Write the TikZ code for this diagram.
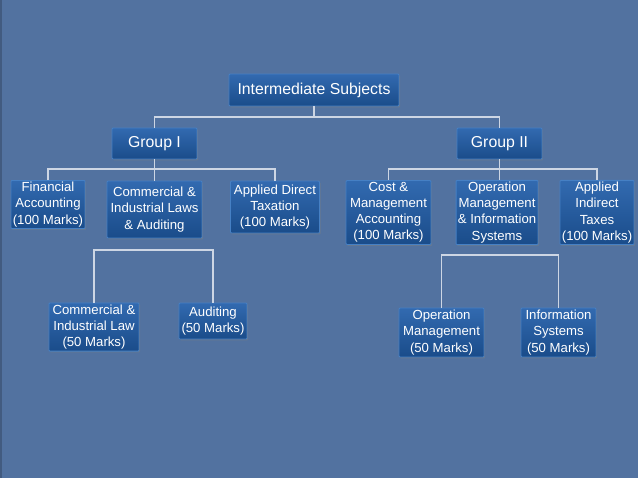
\documentclass[tikz,border=0pt]{standalone}
\usepackage{fontspec}
\setmainfont{Liberation Sans}
\usetikzlibrary{shadows}

\definecolor{bgblue}{RGB}{82,114,160}
\definecolor{boxtop}{RGB}{50,106,176}
\definecolor{boxbot}{RGB}{26,76,138}
\definecolor{boxedge}{RGB}{70,128,196}
\definecolor{linegray}{RGB}{205,214,228}

\tikzset{
  subj/.style={draw=boxedge, line width=0.5pt, top color=boxtop, bottom color=boxbot,
    text=white, align=center, inner sep=1pt, rounded corners=0.5pt,
    font=\fontsize{7.5}{9.2}\selectfont,
    drop shadow={shadow xshift=0.6pt, shadow yshift=-0.8pt, opacity=0.45}},
  head/.style={subj, font=\fontsize{9}{11}\selectfont},
  conn/.style={draw=linegray, line width=0.6pt}
}

\begin{document}
\begin{tikzpicture}[x=0.02cm, y=-0.02cm]
  % background
  \fill[bgblue] (0,0) rectangle (638,478);
  \fill[bgblue!80!black] (0,0) rectangle (2,478);

  % top level
  \node[head, minimum width=3.4cm, minimum height=0.64cm] (top) at (314,90) {Intermediate Subjects};
  \node[head, minimum width=1.7cm, minimum height=0.62cm] (g1) at (154.5,143.5) {Group I};
  \node[head, minimum width=1.7cm, minimum height=0.62cm] (g2) at (499.5,143.5) {Group II};

  % group I papers
  \node[subj, minimum width=1.48cm, minimum height=0.94cm] (fa) at (48,204.5) {Financial\\Accounting\\(100 Marks)};
  \node[subj, minimum width=1.9cm, minimum height=1.14cm] (cil) at (154.5,209.5) {Commercial \&\\Industrial Laws\\\& Auditing};
  \node[subj, minimum width=1.78cm, minimum height=1.04cm] (adt) at (275,207) {Applied Direct\\Taxation\\(100 Marks)};

  % group II papers
  \node[subj, minimum width=1.7cm, minimum height=1.26cm] (cma) at (388.5,212.5) {Cost \&\\Management\\Accounting\\(100 Marks)};
  \node[subj, minimum width=1.6cm, minimum height=1.26cm] (omi) at (497,212.5) {Operation\\Management\\\& Information\\Systems};
  \node[subj, minimum width=1.48cm, minimum height=1.26cm] (ait) at (597,212.5) {Applied\\Indirect\\Taxes\\(100 Marks)};

  % split papers
  \node[subj, minimum width=1.8cm, minimum height=0.96cm] (cil50) at (94,327) {Commercial \&\\Industrial Law\\(50 Marks)};
  \node[subj, minimum width=1.36cm, minimum height=0.72cm] (aud50) at (213,321) {Auditing\\(50 Marks)};
  \node[subj, minimum width=1.7cm, minimum height=0.98cm] (om50) at (441.5,332.5) {Operation\\Management\\(50 Marks)};
  \node[subj, minimum width=1.5cm, minimum height=0.98cm] (is50) at (558.5,332.5) {Information\\Systems\\(50 Marks)};

  % junctions
  \coordinate (j0) at (314,117);
  \coordinate (j1) at (154.5,169);
  \coordinate (j2) at (499.5,169);
  \coordinate (j3) at (154,250);
  \coordinate (j4) at (500,255);

  % connectors
  \draw[conn] (top.south) -- (j0);
  \draw[conn] (g1.north) |- (j0) -| (g2.north);

  \draw[conn] (g1.south) -- (j1);
  \draw[conn] (fa.north) |- (j1) -| (adt.north);
  \draw[conn] (j1) -- (cil.north);

  \draw[conn] (g2.south) -- (j2);
  \draw[conn] (cma.north) |- (j2) -| (ait.north);
  \draw[conn] (j2) -- (j2 |- omi.north);

  \draw[conn] (cil50.north) |- (j3) -| (aud50.north);
  \draw[conn] (om50.north) |- (j4) -| (is50.north);
\end{tikzpicture}
\end{document}
